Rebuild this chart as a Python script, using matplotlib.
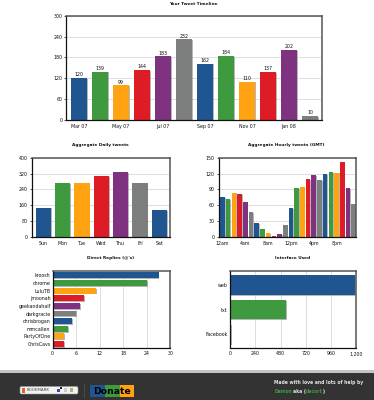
import matplotlib
matplotlib.use("Agg")
import matplotlib.pyplot as plt
import matplotlib.patheffects as pe
from matplotlib.patches import FancyBboxPatch, Rectangle

W, H = 374, 400
COLORS = ["#1f5591", "#3f9a3f", "#ffa312", "#dd1c25", "#7f327f", "#7c7f7e"]
TICK_SIZE = 3.4
TITLE_SIZE = 3.05

timeline_labels = ["Mar 07", "", "May 07", "", "Jul 07", "", "Sep 07", "", "Nov 07", "", "Jan 08", ""]
timeline_values = [120, 139, 99, 144, 183, 232, 162, 184, 110, 137, 202, 10]

daily_labels = ["Sun", "Mon", "Tue", "Wed", "Thu", "Fri", "Sat"]
daily_values = [148, 272, 272, 307, 326, 270, 136]

hourly_labels = ["12am", "4am", "8am", "12pm", "4pm", "8pm"]
hourly_values = [76, 71, 84, 81, 66, 47, 27, 16, 8, 2, 6, 22,
                 54, 93, 95, 110, 117, 108, 119, 123, 122, 142, 92, 63]

reply_names = ["kroosh", "chrome", "LuluTB", "jmoonah", "geekandahalf",
               "darkgracie", "chrisbrogan", "mmcallen", "PartyOfOne", "ChrisCavs"]
reply_values = [27, 24, 11, 8, 7, 6, 5, 4, 3, 3]

interface_names = ["web", "txt", "Facebook"]
interface_values = [1195, 535, 8]


def make_axes(fig, left, top, right, bottom):
    ax = fig.add_axes([left / W, 1 - bottom / H, (right - left) / W, (bottom - top) / H])
    ax.set_axisbelow(True)
    for side in ["top", "right"]:
        ax.spines[side].set_color("#555555")
        ax.spines[side].set_linewidth(1.1)
    for side in ["left", "bottom"]:
        ax.spines[side].set_color("#111111")
        ax.spines[side].set_linewidth(0.9)
    ax.tick_params(labelsize=TICK_SIZE, length=1.5, width=0.5, pad=1.2, colors="#111111")
    return ax


def shadow():
    return [pe.SimplePatchShadow(offset=(0.6, -0.6), shadow_rgbFace="#999999", alpha=0.7), pe.Normal()]


def bar_colors(n):
    return [COLORS[i % len(COLORS)] for i in range(n)]


def vbars(ax, values, width=0.79):
    xs = list(range(len(values)))
    bars = ax.bar(xs, values, width=width, color=bar_colors(len(values)), linewidth=0)
    for b in bars:
        b.set_path_effects(shadow())
    ax.grid(axis="y", color="#dddddd", linewidth=0.7)
    return xs, bars


def hbars(ax, values, width=0.77):
    ys = list(range(len(values)))
    bars = ax.barh(ys, values, height=width, color=bar_colors(len(values)), linewidth=0)
    for b in bars:
        b.set_path_effects(shadow())
    ax.grid(axis="x", color="#dddddd", linewidth=0.7)
    return ys, bars


def title(fig, x, y, text):
    fig.text(x / W, 1 - y / H, text, fontsize=TITLE_SIZE, fontweight="bold",
             color="#111111", ha="center", va="center")


fig = plt.figure(figsize=(W / 100, H / 100), dpi=100, facecolor="white")

# timeline
ax = make_axes(fig, 66, 16, 322, 119.5)
xs, bars = vbars(ax, timeline_values)
ax.set_xlim(-0.62, 11.57)
ax.set_ylim(0, 300)
ax.set_yticks([0, 60, 120, 180, 240, 300])
ax.set_xticks(xs)
ax.set_xticklabels(timeline_labels)
ax.tick_params(axis="x", length=0, pad=3)
ax.bar_label(bars, padding=0.6, fontsize=TICK_SIZE, color="#111111")
title(fig, 193, 4, "Your Tweet Timeline")

# daily
ax = make_axes(fig, 31.7, 157.7, 170, 237)
xs, _ = vbars(ax, daily_values)
ax.set_xlim(-0.6, 6.55)
ax.set_ylim(0, 400)
ax.set_yticks([0, 80, 160, 240, 320, 400])
ax.set_xticks(xs)
ax.set_xticklabels(daily_labels)
ax.tick_params(axis="x", length=0, pad=3)
title(fig, 100.7, 145, "Aggregate Daily tweets")

# hourly
ax = make_axes(fig, 218.7, 157.7, 356.3, 237)
xs, _ = vbars(ax, hourly_values, width=0.8)
ax.set_xlim(-0.65, 23.45)
ax.set_ylim(0, 150)
ax.set_yticks([0, 30, 60, 90, 120, 150])
ax.set_xticks(xs[::4])
ax.set_xticklabels(hourly_labels)
ax.tick_params(axis="x", length=0, pad=3)
title(fig, 286, 145, "Aggregate Hourly tweets (GMT)")

# replies
ax = make_axes(fig, 52.7, 270.7, 170.3, 348)
ys, _ = hbars(ax, reply_values)
ax.set_xlim(0, 30)
ax.set_ylim(9.52, -0.61)
ax.set_xticks([0, 6, 12, 18, 24, 30])
ax.set_yticks(ys)
ax.set_yticklabels(reply_names)
ax.tick_params(axis="y", length=0, pad=1.5)
ax.tick_params(axis="x", length=0, pad=2.5)
title(fig, 111, 258, "Direct Replies (@'s)")

# interface
ax = make_axes(fig, 230.3, 270.7, 356, 348)
ys, _ = hbars(ax, interface_values, width=0.8)
ax.set_xlim(0, 1200)
ax.set_ylim(2.57, -0.59)
ax.set_xticks([0, 240, 480, 720, 960, 1200])
ax.set_xticklabels(["0", "240", "480", "720", "960", "1,200"])
ax.set_yticks(ys)
ax.set_yticklabels(interface_names)
ax.tick_params(axis="y", length=0, pad=2)
ax.tick_params(axis="x", length=0, pad=2.5)
title(fig, 293, 258, "Interface Used")


# footer
def frect(x0, y0, x1, y1, color, z=1):
    fig.add_artist(Rectangle((x0 / W, 1 - y1 / H), (x1 - x0) / W, (y1 - y0) / H,
                             transform=fig.transFigure, facecolor=color, edgecolor="none", zorder=z))


def ftext(x, y, text, color="#e4e4e4", size=3.25, weight="bold", **kw):
    fig.text(x / W, 1 - y / H, text, fontsize=size, color=color, fontweight=weight,
             va="center", zorder=4, **kw)


frect(0, 370, W, 373, "#c4c4c4")
frect(0, 373, W, H, "#333333")
frect(84, 384, 84.6, 398, "#4a4a4a", 2)

fig.add_artist(FancyBboxPatch((20 / W, 1 - 394 / H), 58 / W, 7.5 / H, transform=fig.transFigure,
                              boxstyle="round,pad=0,rounding_size=0.004", facecolor="#f2f2f2",
                              edgecolor="#999999", linewidth=0.4, zorder=2))
frect(21.5, 387.5, 25, 392.5, "#e8602c", 3)
ftext(27, 390.2, "BOOKMARK", color="#444444", size=2.9, weight="normal")
frect(57, 389, 60, 392, "#2a4fa0", 3)
frect(60, 387, 62, 389, "#222222", 3)
frect(64, 388, 67, 392, "#cccccc", 3)
frect(70, 388, 73, 392, "#a9b86c", 3)

frect(90, 385, 104.5, 397, COLORS[0], 2)
frect(104.5, 385, 119.5, 397, COLORS[1], 2)
frect(119.5, 385, 133.5, 397, COLORS[2], 2)
ftext(112, 391, "Donate", color="black", size=6.7, ha="center")

ftext(274, 382.5, "Made with love and lots of help by")
ftext(275, 391.5, "Damon", color="#3f9a3f")
ftext(293, 391.5, "aka (")
ftext(306, 391.5, "decort", color="#3f9a3f")
ftext(323, 391.5, ")")

fig.savefig("out.png", dpi=100)
